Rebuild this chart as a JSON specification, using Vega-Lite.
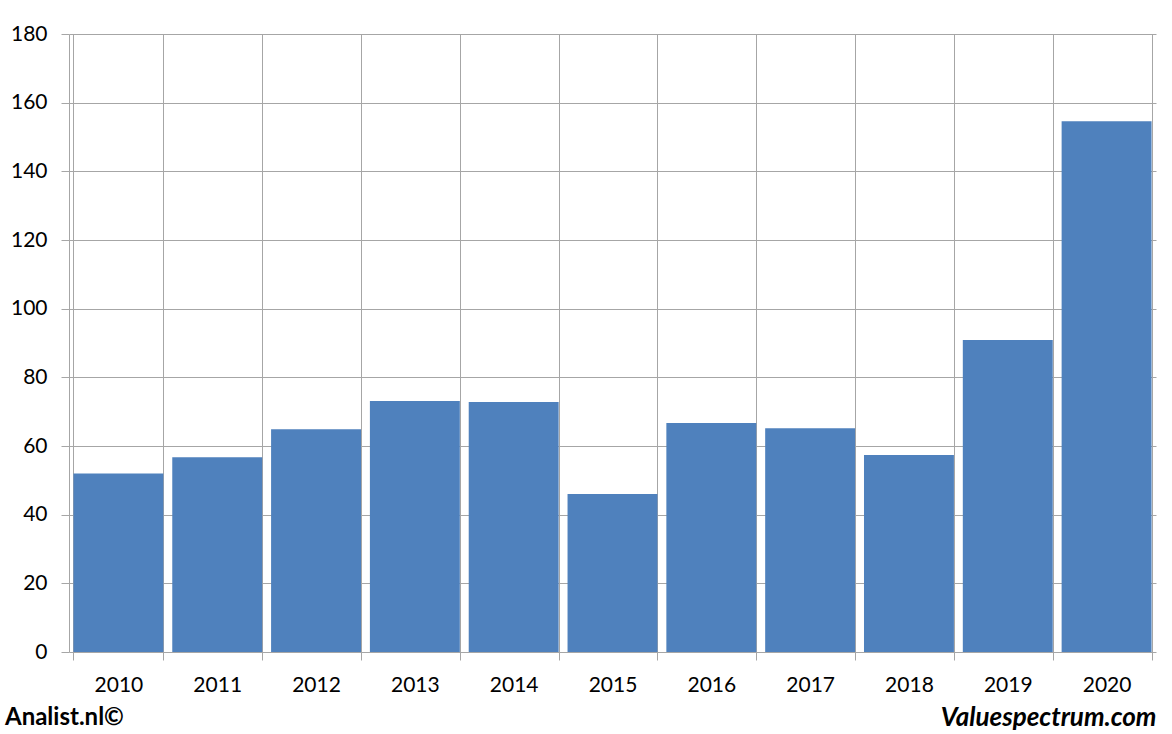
{
  "$schema": "https://vega.github.io/schema/vega-lite/v6.json",
  "width": 1087,
  "height": 618,
  "autosize": {"type": "none"},
  "padding": {"left": 69, "top": 34, "right": 16, "bottom": 82},
  "background": "#ffffff",
  "title": {
    "text": "Analist.nl©",
    "orient": "bottom",
    "anchor": "start",
    "frame": "group",
    "dx": -64,
    "offset": -24,
    "font": "Lato",
    "fontSize": 24,
    "fontWeight": "bold",
    "color": "#000000"
  },
  "data": {
    "values": [
      {"year": "2010", "value": 52.0},
      {"year": "2011", "value": 56.7},
      {"year": "2012", "value": 64.9},
      {"year": "2013", "value": 73.1},
      {"year": "2014", "value": 72.8},
      {"year": "2015", "value": 46.0},
      {"year": "2016", "value": 66.7},
      {"year": "2017", "value": 65.2},
      {"year": "2018", "value": 57.4},
      {"year": "2019", "value": 90.9},
      {"year": "2020", "value": 154.6}
    ]
  },
  "mark": {"type": "bar", "color": "#4f81bd"},
  "encoding": {
    "x": {
      "field": "year",
      "type": "nominal",
      "sort": null,
      "scale": {"paddingInner": 0.09, "paddingOuter": 0.045},
      "axis": {
        "title": "Valuespectrum.com",
        "titleAnchor": "end",
        "titleFont": "Lato",
        "titleFontSize": 26,
        "titleFontWeight": "bold",
        "titleFontStyle": "italic",
        "titleColor": "#000000",
        "titlePadding": 9,
        "labelAngle": 0,
        "labelFont": "Lato",
        "labelFontSize": 21,
        "labelColor": "#000000",
        "labelPadding": 14,
        "tickBand": "extent",
        "tickSize": 8,
        "tickColor": "#a6a6a6",
        "domain": false,
        "grid": true,
        "gridColor": "#a6a6a6",
        "gridWidth": 1
      }
    },
    "y": {
      "field": "value",
      "type": "quantitative",
      "scale": {"domain": [0, 180], "nice": false},
      "axis": {
        "title": null,
        "values": [0, 20, 40, 60, 80, 100, 120, 140, 160, 180],
        "labelFont": "Lato",
        "labelFontSize": 21,
        "labelColor": "#000000",
        "labelPadding": 14,
        "tickSize": 8,
        "tickColor": "#a6a6a6",
        "domainColor": "#a6a6a6",
        "grid": true,
        "gridColor": "#a6a6a6",
        "gridWidth": 1
      }
    }
  },
  "config": {"view": {"stroke": null}}
}
